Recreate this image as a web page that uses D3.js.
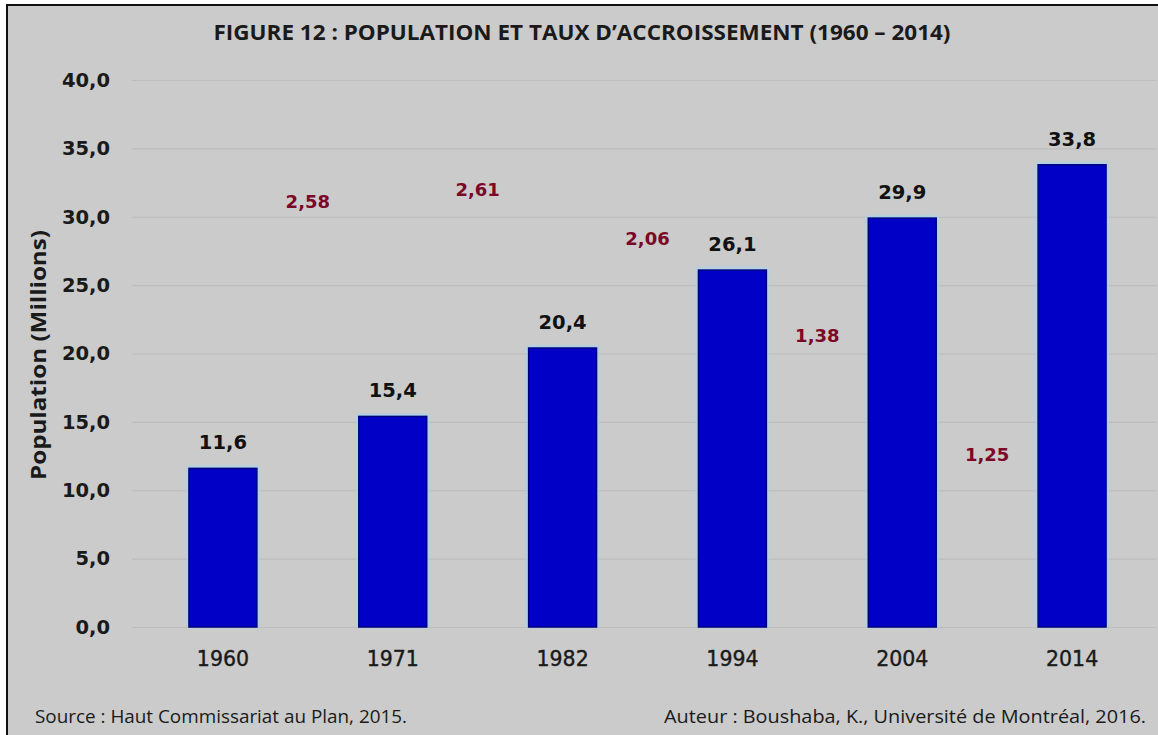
<!DOCTYPE html>
<html>
<head>
<meta charset="utf-8">
<script src="https://cdn.jsdelivr.net/npm/d3@7"></script>
<style>
  html, body { margin: 0; padding: 0; background: #ffffff; }
  svg { display: block; }
</style>
</head>
<body>
<svg id="chart" width="1158" height="735"></svg>
<script>
// Census years and population (millions)
const years = ["1960", "1971", "1982", "1994", "2004", "2014"];
const population = [11.6, 15.4, 20.4, 26.1, 29.9, 33.8];

// Annual growth rate (%) between consecutive censuses
const growthRates = [2.58, 2.61, 2.06, 1.38, 1.25];
// Vertical anchor of each growth-rate label, in population units
const growthLabelLevel = [31.1, 32.0, 28.4, 21.3, 12.6];

const yTicks = [0, 5, 10, 15, 20, 25, 30, 35, 40];

const titleText = "FIGURE 12 : POPULATION ET TAUX D\u2019ACCROISSEMENT (1960 \u2013 2014)";
const yAxisTitle = "Population (Millions)";
const sourceText = "Source : Haut Commissariat au Plan, 2015.";
const authorText = "Auteur : Boushaba, K., Universit\u00e9 de Montr\u00e9al, 2016.";

const fmt = v => v.toFixed(1).replace(".", ",");
const fmt2 = v => v.toFixed(2).replace(".", ",");

const svg = d3.select("#chart");
const W = 1158, H = 735;

// Panel background with its frame on the top and left edges
svg.append("rect").attr("x", 7).attr("y", 5).attr("width", W - 7).attr("height", H - 5)
  .attr("fill", "#cbcbcb");
svg.append("path").attr("d", `M7,${H} V5 H${W}`)
  .attr("fill", "none").attr("stroke", "#111").attr("stroke-width", 2);

const defs = svg.append("defs");
const glow = defs.append("filter").attr("id", "glow")
  .attr("x", "-20%").attr("y", "-20%").attr("width", "140%").attr("height", "140%");
glow.append("feGaussianBlur").attr("stdDeviation", 1.6);

const x = d3.scaleBand().domain(years).range([138, 1157]).paddingInner(0.6).paddingOuter(0.3);
const y = d3.scaleLinear().domain([0, 40]).range([627, 80]);

// Gridlines
const yAxis = d3.axisLeft(y).tickValues(yTicks).tickFormat(fmt)
  .tickSize(-(1157 - 138)).tickPadding(28);
const gy = svg.append("g").attr("transform", "translate(138,0)").call(yAxis);
gy.select(".domain").remove();
gy.selectAll(".tick line").attr("stroke", "#bdbdbd").attr("stroke-width", 1.2).attr("x1", -6);
gy.selectAll(".tick text")
  .attr("font-family", "'DejaVu Sans', Verdana, sans-serif")
  .attr("font-weight", "bold").attr("font-size", 19.5).attr("fill", "#1a1a1a");

// X axis labels
const xAxis = d3.axisBottom(x).tickSize(0).tickPadding(24);
const gx = svg.append("g").attr("transform", "translate(0,627)").call(xAxis);
gx.select(".domain").remove();
gx.selectAll(".tick text")
  .attr("font-family", "'DejaVu Sans', Verdana, sans-serif")
  .attr("font-size", 20.5).attr("fill", "#1a1a1a").attr("stroke", "#1a1a1a").attr("stroke-width", 0.4);

// Bars: soft light halo, then the blue fill with a dark edge
const bars = svg.append("g");
bars.selectAll("rect.halo").data(years).join("rect").attr("class", "halo")
  .attr("x", d => x(d) - 2).attr("width", x.bandwidth() + 4)
  .attr("y", (d, i) => y(population[i]) - 2)
  .attr("height", (d, i) => y(0) - y(population[i]) + 2)
  .attr("fill", "#9fd6f2").attr("filter", "url(#glow)");
bars.selectAll("rect.bar").data(years).join("rect").attr("class", "bar")
  .attr("x", d => x(d)).attr("width", x.bandwidth())
  .attr("y", (d, i) => y(population[i]))
  .attr("height", (d, i) => y(0) - y(population[i]))
  .attr("fill", "#0000c6").attr("stroke", "#00007e").attr("stroke-width", 1.5);

// Population value labels
svg.append("g").selectAll("text").data(years).join("text")
  .attr("x", d => x(d) + x.bandwidth() / 2)
  .attr("y", (d, i) => y(population[i]) - 19)
  .attr("text-anchor", "middle")
  .attr("font-family", "'DejaVu Sans', Verdana, sans-serif")
  .attr("font-weight", "bold").attr("font-size", 19.5).attr("fill", "#111")
  .text((d, i) => fmt(population[i]));

// Growth-rate labels between consecutive censuses
const mid = i => (x(years[i]) + x(years[i + 1])) / 2 + x.bandwidth() / 2;
svg.append("g").selectAll("text").data(growthRates).join("text")
  .attr("x", (d, i) => mid(i))
  .attr("y", (d, i) => y(growthLabelLevel[i]))
  .attr("dy", "0.35em")
  .attr("text-anchor", "middle")
  .attr("font-family", "'DejaVu Sans', Verdana, sans-serif")
  .attr("font-weight", "bold").attr("font-size", 18).attr("fill", "#7a0826")
  .text(d => fmt2(d));

// Title
svg.append("text").attr("x", 582).attr("y", 40).attr("text-anchor", "middle")
  .attr("font-family", "'Liberation Sans Narrow', 'Open Sans', sans-serif")
  .attr("font-weight", "bold").attr("font-size", 21).attr("fill", "#1a1a1a")
  .attr("textLength", 737).attr("lengthAdjust", "spacingAndGlyphs")
  .text(titleText);

// Y axis title
svg.append("text").attr("transform", "translate(46,355) rotate(-90)")
  .attr("text-anchor", "middle")
  .attr("font-family", "'Liberation Sans Narrow', 'Open Sans', sans-serif")
  .attr("font-weight", "bold").attr("font-size", 21).attr("fill", "#1a1a1a")
  .attr("textLength", 250).attr("lengthAdjust", "spacingAndGlyphs")
  .text(yAxisTitle);

// Footer notes
svg.append("text").attr("x", 35).attr("y", 723)
  .attr("font-family", "'Liberation Sans Narrow', 'Open Sans', sans-serif")
  .attr("font-size", 19).attr("fill", "#1a1a1a")
  .attr("textLength", 372).attr("lengthAdjust", "spacingAndGlyphs")
  .text(sourceText);
svg.append("text").attr("x", 1146).attr("y", 723).attr("text-anchor", "end")
  .attr("font-family", "'Liberation Sans Narrow', 'Open Sans', sans-serif")
  .attr("font-size", 19).attr("fill", "#1a1a1a")
  .attr("textLength", 482).attr("lengthAdjust", "spacingAndGlyphs")
  .text(authorText);
</script>
</body>
</html>
